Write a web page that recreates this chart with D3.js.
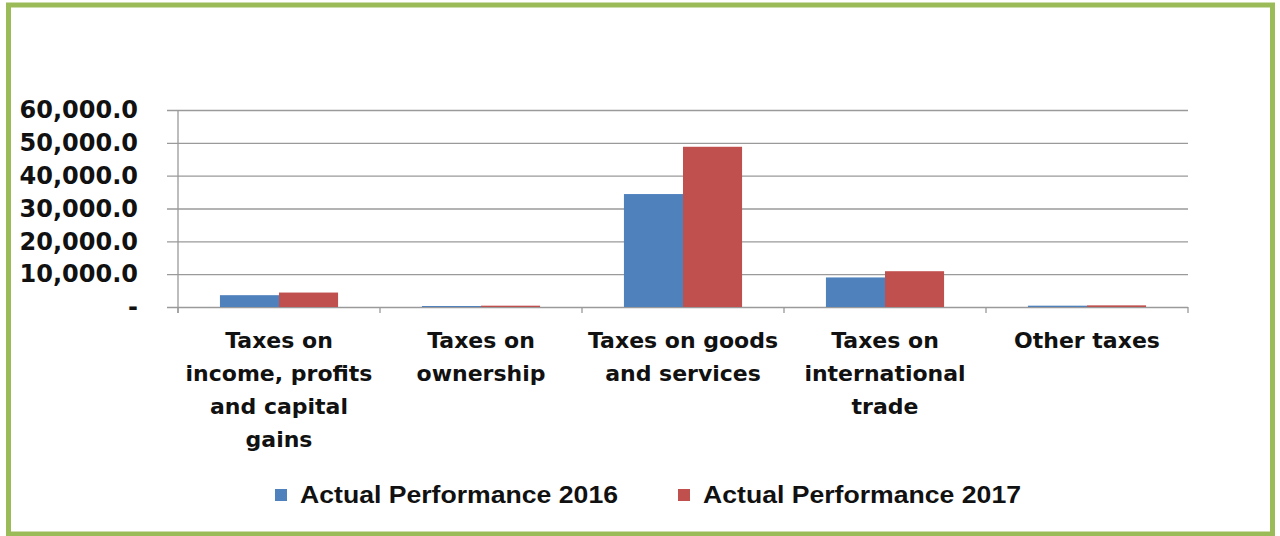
<!DOCTYPE html>
<html>
<head>
<meta charset="utf-8">
<script src="https://cdn.jsdelivr.net/npm/d3@7"></script>
<style>
  html, body { margin: 0; padding: 0; background: #fff; }
  svg { display: block; }
</style>
</head>
<body>
<svg id="chart" width="1280" height="536"></svg>
<script>
// Tax revenue by category, two fiscal years
const categories = [
  ["Taxes on", "income, profits", "and capital", "gains"],
  ["Taxes on", "ownership"],
  ["Taxes on goods", "and services"],
  ["Taxes on", "international", "trade"],
  ["Other taxes"]
];
const seriesNames = ["Actual Performance 2016", "Actual Performance 2017"];
const values2016 = [3600, 300, 34400, 9000, 400];
const values2017 = [4400, 400, 48800, 10900, 500];
const yTicks = [0, 10000, 20000, 30000, 40000, 50000, 60000];
const colors = ["#4f81bd", "#c0504d"];

const svg = d3.select("#chart");

// outer frame
svg.append("rect")
  .attr("x", 8.5).attr("y", 5).attr("width", 1264).attr("height", 529)
  .attr("fill", "#fff").attr("stroke", "#9bbb59").attr("stroke-width", 5);

const plot = { left: 178, right: 1188, top: 110, bottom: 307 };

const x = d3.scaleBand()
  .domain(d3.range(categories.length))
  .range([plot.left, plot.right])
  .paddingInner(0).paddingOuter(0);

const y = d3.scaleLinear().domain([0, 60000]).range([plot.bottom, plot.top]);

// horizontal gridlines + y-axis
const yAxis = d3.axisLeft(y)
  .tickValues(yTicks)
  .tickSize(-(plot.right - plot.left))
  .tickSizeOuter(0)
  .tickPadding(40)
  .tickFormat(d => d === 0 ? "-" : d3.format(",.1f")(d));

const gy = svg.append("g")
  .attr("transform", `translate(${plot.left},0)`)
  .call(yAxis);
gy.select(".domain").remove();
gy.selectAll(".tick line")
  .attr("stroke", "#9a9a9a").attr("stroke-width", 1.3)
  .attr("x1", -11);
gy.selectAll(".tick text")
  .attr("x", -40)
  .attr("font-family", "DejaVu Sans")
  .attr("font-weight", "bold")
  .attr("font-size", 24)
  .attr("fill", "#111");

// left axis line
svg.append("line")
  .attr("x1", plot.left).attr("x2", plot.left)
  .attr("y1", plot.top).attr("y2", plot.bottom + 6)
  .attr("stroke", "#9a9a9a").attr("stroke-width", 1.3);

// category boundary ticks
const bounds = d3.range(categories.length + 1).map(i =>
  i < categories.length ? x(i) : x(categories.length - 1) + x.bandwidth());
svg.append("g").selectAll("line").data(bounds).join("line")
  .attr("x1", d => d).attr("x2", d => d)
  .attr("y1", plot.bottom).attr("y2", plot.bottom + 6)
  .attr("stroke", "#9a9a9a").attr("stroke-width", 1.3);

// bars
const inner = d3.scaleBand().domain([0, 1])
  .range([0, x.bandwidth()])
  .paddingInner(0).paddingOuter(0.71);

const series = [values2016, values2017];
series.forEach((vals, s) => {
  svg.append("g").selectAll("rect").data(vals).join("rect")
    .attr("x", (d, i) => x(i) + inner(s))
    .attr("width", inner.bandwidth())
    .attr("y", d => y(d))
    .attr("height", d => y(0) - y(d))
    .attr("fill", colors[s]);
});

// category labels
const labels = svg.append("g")
  .attr("font-family", "DejaVu Sans")
  .attr("font-weight", "bold")
  .attr("font-size", 22)
  .attr("fill", "#111")
  .attr("text-anchor", "middle");
categories.forEach((lines, i) => {
  const t = labels.append("text")
    .attr("x", x(i) + x.bandwidth() / 2)
    .attr("y", 348);
  lines.forEach((ln, k) => {
    t.append("tspan")
      .attr("x", x(i) + x.bandwidth() / 2)
      .attr("y", 348 + k * 33)
      .text(ln);
  });
});

// legend
const legendX = [275, 678];
const legend = svg.append("g");
seriesNames.forEach((name, s) => {
  legend.append("rect")
    .attr("x", legendX[s]).attr("y", 489)
    .attr("width", 12).attr("height", 12)
    .attr("fill", colors[s]);
  legend.append("text")
    .attr("x", legendX[s] + 25).attr("y", 503)
    .attr("font-family", "Liberation Sans")
    .attr("font-weight", "bold")
    .attr("font-size", 24)
    .attr("textLength", 318)
    .attr("lengthAdjust", "spacingAndGlyphs")
    .attr("fill", "#111")
    .text(name);
});
</script>
</body>
</html>
